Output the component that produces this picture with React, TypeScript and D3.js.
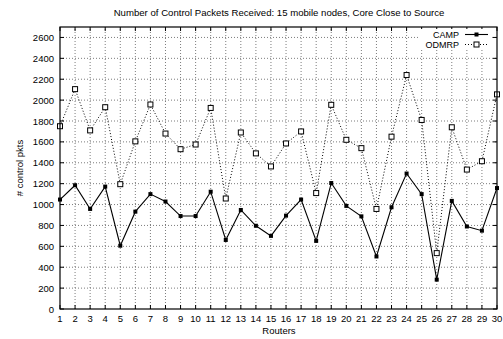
import React from "react";
import * as d3 from "d3";

const routers = d3.range(1, 31);
const campPkts = [1048, 1185, 958, 1172, 606, 932, 1100, 1029, 890, 890, 1123, 661, 948, 797, 700, 894, 1048, 652, 1206, 987, 887, 503, 974, 1297, 1100, 281, 1035, 790, 750, 1158];
const odmrpPkts = [1750, 2105, 1710, 1932, 1195, 1605, 1958, 1680, 1530, 1575, 1925, 1058, 1690, 1490, 1365, 1585, 1700, 1110, 1955, 1620, 1540, 958, 1650, 2240, 1810, 535, 1740, 1335, 1415, 2055];
const yTicks = d3.range(0, 2700, 200);

const W = 503;
const H = 339;
const M = { left: 60, right: 6, top: 27, bottom: 30 };
const FONT = "'Liberation Sans', Arial, Helvetica, sans-serif";

export default function App() {
  const x = d3.scaleLinear().domain([1, 30]).range([M.left, W - M.right]);
  const y = d3.scaleLinear().domain([0, 2700]).range([H - M.bottom, M.top]);
  const line = d3
    .line<number>()
    .x((_, i) => x(routers[i]))
    .y((d) => y(d));

  const x0 = x(1), x1 = x(30), y0 = y(0), y1 = y(2700);
  const tk = 4;

  return (
    <svg width={W} height={H} style={{ position: "absolute", left: 0, top: 0, background: "#fff" }} fontFamily={FONT}>
      {/* grid */}
      <g stroke="#444" strokeWidth={0.7} strokeDasharray="1,2">
        {routers.slice(1, -1).map((r) => (
          <line key={"gx" + r} x1={x(r)} x2={x(r)} y1={y0} y2={y1} />
        ))}
        {yTicks.slice(1).map((t) => (
          <line key={"gy" + t} x1={x0} x2={x1} y1={y(t)} y2={y(t)} />
        ))}
      </g>
      {/* ticks, mirrored on all sides */}
      <g stroke="#000" strokeWidth={1}>
        {routers.map((r) => (
          <g key={"tx" + r}>
            <line x1={x(r)} x2={x(r)} y1={y0} y2={y0 - tk} />
            <line x1={x(r)} x2={x(r)} y1={y1} y2={y1 + tk} />
          </g>
        ))}
        {yTicks.map((t) => (
          <g key={"ty" + t}>
            <line x1={x0} x2={x0 + tk} y1={y(t)} y2={y(t)} />
            <line x1={x1} x2={x1 - tk} y1={y(t)} y2={y(t)} />
          </g>
        ))}
      </g>
      {/* tick labels */}
      <g fontSize={9.5} fill="#000">
        {routers.map((r) => (
          <text key={"lx" + r} x={x(r)} y={y0 + 13} textAnchor="middle">{r}</text>
        ))}
        {yTicks.map((t) => (
          <text key={"ly" + t} x={x0 - 6} y={y(t) + 3.5} textAnchor="end">{t}</text>
        ))}
      </g>
      {/* series */}
      <path d={line(odmrpPkts) ?? ""} fill="none" stroke="#000" strokeWidth={1} strokeDasharray="1,2" />
      <path d={line(campPkts) ?? ""} fill="none" stroke="#000" strokeWidth={1.1} />
      {odmrpPkts.map((v, i) => (
        <rect key={"om" + i} x={x(routers[i]) - 2.5} y={y(v) - 2.5} width={5} height={5} fill="#fff" stroke="#000" strokeWidth={1} />
      ))}
      {campPkts.map((v, i) => (
        <rect key={"cm" + i} x={x(routers[i]) - 2} y={y(v) - 2} width={4} height={4} fill="#000" />
      ))}
      {/* frame */}
      <rect x={x0} y={y1} width={x1 - x0} height={y0 - y1} fill="none" stroke="#000" strokeWidth={1.2} />
      {/* legend */}
      <g>
        <rect x={420} y={29} width={72} height={20} fill="#fff" />
        <text x={459} y={37.5} fontSize={9} textAnchor="end">CAMP</text>
        <line x1={465} x2={488} y1={34.5} y2={34.5} stroke="#000" strokeWidth={1.1} />
        <rect x={474.5} y={32.5} width={4} height={4} fill="#000" />
        <text x={459} y={47.5} fontSize={9} textAnchor="end">ODMRP</text>
        <line x1={465} x2={488} y1={44.5} y2={44.5} stroke="#000" strokeWidth={1} strokeDasharray="1,2" />
        <rect x={474} y={42} width={5} height={5} fill="#fff" stroke="#000" strokeWidth={1} />
      </g>
      {/* titles */}
      <text x={279} y={16} fontSize={9.6} textAnchor="middle">
        Number of Control Packets Received: 15 mobile nodes, Core Close to Source
      </text>
      <text x={279} y={334} fontSize={9.5} textAnchor="middle">Routers</text>
      <text transform={`translate(23,${(y0 + y1) / 2}) rotate(-90)`} fontSize={9.5} textAnchor="middle">
        # control pkts
      </text>
    </svg>
  );
}
